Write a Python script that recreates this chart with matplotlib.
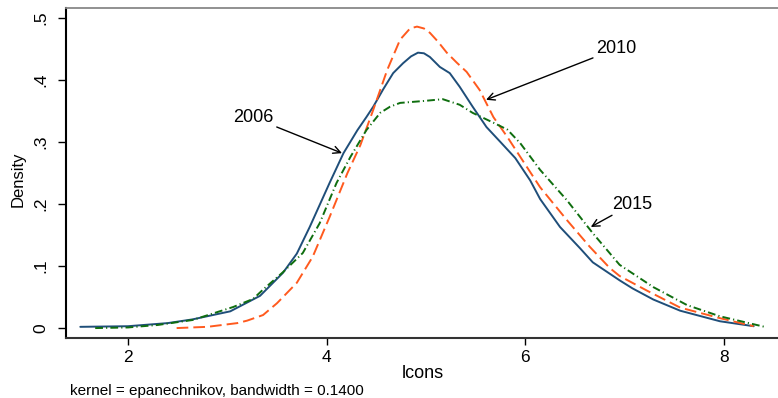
import matplotlib.pyplot as plt

# Kernel density estimates of lcons
x2006 = [1.52, 2.0, 2.4, 2.65, 3.03, 3.33, 3.56, 3.70, 3.83, 4.03, 4.17, 4.31, 4.40, 4.47,
         4.57, 4.67, 4.77, 4.85, 4.92, 4.98, 5.04, 5.14, 5.24, 5.34, 5.47, 5.61, 5.75,
         5.90, 6.05, 6.15, 6.35, 6.55, 6.68, 6.95, 7.08, 7.29, 7.56, 7.96, 8.30]
y2006 = [0.002, 0.003, 0.008, 0.014, 0.027, 0.052, 0.089, 0.120, 0.163, 0.234, 0.282, 0.319,
         0.340, 0.357, 0.385, 0.411, 0.427, 0.438, 0.444, 0.443, 0.437, 0.421, 0.411, 0.389,
         0.357, 0.324, 0.300, 0.274, 0.238, 0.208, 0.163, 0.129, 0.106, 0.077, 0.064, 0.046,
         0.028, 0.011, 0.003]

x2010 = [2.49, 2.8, 3.0, 3.10, 3.2, 3.36, 3.50, 3.70, 3.86, 4.03, 4.21, 4.34, 4.47, 4.61,
         4.74, 4.84, 4.91, 4.98, 5.04, 5.12, 5.21, 5.31, 5.41, 5.54, 5.68, 5.82, 5.95,
         6.15, 6.42, 6.65, 6.85, 6.95, 7.23, 7.56, 7.96, 8.30]
y2010 = [0.000, 0.002, 0.006, 0.008, 0.012, 0.021, 0.040, 0.073, 0.115, 0.179, 0.250, 0.295,
         0.352, 0.416, 0.465, 0.483, 0.486, 0.483, 0.476, 0.462, 0.444, 0.428, 0.413, 0.384,
         0.340, 0.308, 0.276, 0.227, 0.174, 0.131, 0.097, 0.084, 0.060, 0.033, 0.016, 0.003]

x2015 = [1.67, 2.0, 2.3, 2.65, 3.06, 3.26, 3.36, 3.56, 3.76, 3.93, 4.10, 4.24, 4.40, 4.54,
         4.64, 4.74, 4.97, 5.17, 5.34, 5.47, 5.68, 5.82, 5.95, 6.15, 6.42, 6.68, 6.95,
         7.29, 7.63, 7.96, 8.41]
y2015 = [0.000, 0.001, 0.005, 0.013, 0.034, 0.047, 0.062, 0.090, 0.121, 0.169, 0.234, 0.276,
         0.319, 0.347, 0.357, 0.363, 0.366, 0.369, 0.360, 0.347, 0.331, 0.320, 0.298, 0.255,
         0.206, 0.153, 0.102, 0.066, 0.037, 0.019, 0.002]

xticks = [2, 4, 6, 8]
yticks = [0, 0.1, 0.2, 0.3, 0.4, 0.5]
yticklabels = ["0", ".1", ".2", ".3", ".4", ".5"]

plt.rcParams["font.family"] = ["Liberation Sans", "DejaVu Sans"]

fig = plt.figure(figsize=(7.78, 3.98), dpi=100)
ax = fig.add_axes([66 / 778, 60 / 398, 712 / 778, 330 / 398])

ax.plot(x2006, y2006, color="#1f4e79", lw=1.4, solid_capstyle="round")
ax.plot(x2010, y2010, color="#ff5a1e", lw=1.4, dashes=(6, 2.6))
ax.plot(x2015, y2015, color="#0f6e0f", lw=1.4, dashes=(4, 1.6, 0.6, 1.6))

# labels with arrows
arrow = dict(arrowstyle="->", color="black", lw=1.0, shrinkA=0, shrinkB=0)
ax.annotate("2006", xy=(4.155, 0.282), xytext=(3.47, 0.339), ha="right", va="center",
            fontsize=13, arrowprops=arrow)
ax.annotate("2010", xy=(5.605, 0.368), xytext=(6.71, 0.45), ha="left", va="center",
            fontsize=13, arrowprops=arrow)
ax.annotate("2015", xy=(6.66, 0.163), xytext=(7.08, 0.20), ha="center", va="center",
            fontsize=13, arrowprops=arrow)

ax.set_xlim(1.376, 8.545)
ax.set_ylim(-0.016, 0.516)
ax.set_xticks(xticks)
ax.set_yticks(yticks)
ax.set_yticklabels(yticklabels, rotation=90, va="center")
ax.tick_params(axis="y", length=6, width=1, pad=7, labelsize=12.5)
ax.tick_params(axis="x", length=5, width=1, pad=4, labelsize=12.5)

ax.set_ylabel("Density", fontsize=12)
ax.yaxis.set_label_coords(-0.057, 0.48)
ax.set_xlabel("lcons", fontsize=13)
ax.xaxis.set_label_coords(0.501, -0.082)

ax.spines["right"].set_visible(False)
ax.spines["top"].set_color("#888888")
ax.spines["top"].set_linewidth(1.3)
ax.spines["left"].set_linewidth(1.5)
ax.spines["bottom"].set_linewidth(1.5)
ax.spines["bottom"].set_color("#333333")

fig.text(70 / 778, 7 / 398, "kernel = epanechnikov, bandwidth = 0.1400", fontsize=11,
         ha="left", va="center")

fig.savefig("out.png", dpi=100)
